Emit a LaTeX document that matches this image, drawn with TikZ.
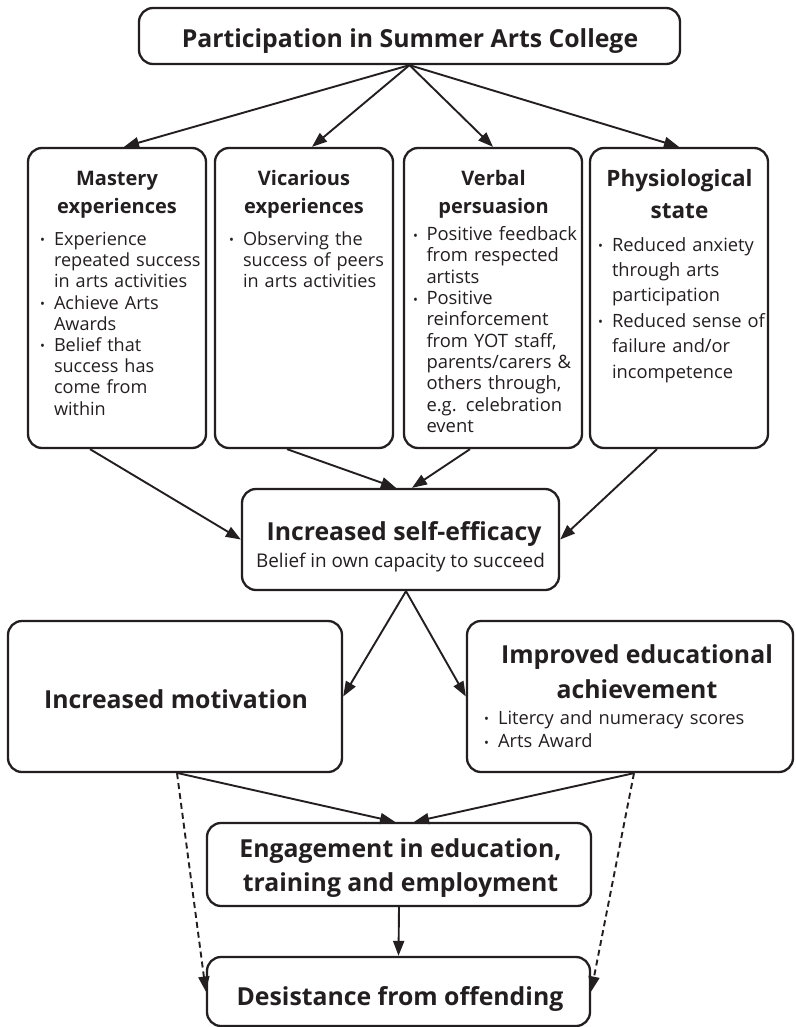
\documentclass[tikz,border=0pt]{standalone}
\usepackage{fontspec}
\setmainfont{Open Sans}
\usetikzlibrary{arrows.meta}
\definecolor{ink}{RGB}{35,31,32}
\newcommand\lgfont{\fontsize{24.8}{34}\selectfont\bfseries}
\newcommand\hdfont{\fontsize{20}{28}\selectfont\bfseries}
\newcommand\bdfont{\fontsize{18.1}{21.2}\selectfont}
\newcommand\bul{\raisebox{0.5pt}{\fontsize{13}{13}\selectfont\char"2022}}
\newcommand\itm[2][14pt]{\par\lineskip=0pt\noindent\makebox[#1][l]{\bul}\parbox[t]{400pt}{\raggedright\strut #2\strut}\par}
\tikzset{
  box/.style={draw=ink, line width=2.3pt, rounded corners=14pt, inner sep=0pt},
  txt/.style={inner sep=0pt, outer sep=0pt, text=ink},
  bullets/.style={txt, anchor=north west, text width=420pt, align=left, font=\bdfont},
  arr/.style={draw=ink, line width=1.9pt, -{Triangle[length=15pt,width=11pt]}},
  dasharr/.style={arr, dash pattern=on 6pt off 4pt}
}
\begin{document}
\begin{tikzpicture}[x=1pt,y=-1pt]
\fill[white] (0,0) rectangle (795,1027);
\useasboundingbox (0,0) rectangle (795,1027);

% boxes
\node[box, minimum width=541pt, minimum height=56pt] (top) at (409.5,36) {};
\node[box, minimum width=178pt, minimum height=300pt] (m) at (117,298) {};
\node[box, minimum width=178pt, minimum height=300pt] (v) at (304,298) {};
\node[box, minimum width=178pt, minimum height=300pt] (p) at (493,298) {};
\node[box, minimum width=178pt, minimum height=300pt] (s) at (679,298) {};
\node[box, minimum width=317pt, minimum height=101pt] (eff) at (400.5,539.5) {};
\node[box, minimum width=334pt, minimum height=151pt] (mot) at (175,696.5) {};
\node[box, minimum width=326pt, minimum height=151pt] (imp) at (630,696.5) {};
\node[box, minimum width=384pt, minimum height=83pt] (eng) at (399,864.5) {};
\node[box, minimum width=383pt, minimum height=69pt] (des) at (398.5,991.5) {};

% texts
\node[txt, anchor=base, font=\lgfont] (toptxt) at (410,48) {Participation in Summer Arts College};

\node[txt, anchor=north, align=center, font=\hdfont] (mh) at (117,165.4) {\strut Mastery\\experiences};
\node[bullets] (mb) at (40,224.2) {%
  \itm{Experience\\repeated success\\in arts activities}%
  \itm{Achieve Arts\\Awards}%
  \itm{Belief that\\success has\\come from\\within}};

\node[txt, anchor=north, align=center, font=\hdfont] (vh) at (304,165.4) {\strut Vicarious\\experiences};
\node[bullets] (vb) at (229,224.2) {%
  \itm{Observing the\\success of peers\\in arts activities}};

\node[txt, anchor=north, align=center, font=\hdfont] (ph) at (493.5,165.4) {\strut Verbal\\persuasion};
\node[bullets, font=\fontsize{18.4}{21.33}\selectfont] (pb) at (413,219.3) {%
  \itm[13.5pt]{Positive feedback\\from respected\\artists}%
  \itm[13.5pt]{Positive\\reinforcement\\from YOT staff,\\parents/carers \&\\others through,\\e.g. celebration\\event}};

\node[txt, anchor=north, align=center, font=\fontsize{22.5}{31.6}\selectfont\bfseries] (sh) at (679.5,164.6) {\strut Physiological\\state};
\node[bullets, font=\fontsize{18.3}{25.4}\selectfont] (sb) at (598,225.7) {%
  \itm{Reduced anxiety\\through arts\\participation}%
  \itm{Reduced sense of\\failure and/or\\incompetence}};

\node[txt, anchor=base, font=\lgfont] (effa) at (404,540) {Increased self-efficacy};
\node[txt, anchor=base, font=\fontsize{18.9}{22}\selectfont] (effb) at (400.5,567.5) {Belief in own capacity to succeed};

\node[txt, anchor=base, font=\lgfont] (mott) at (176,708.3) {Increased motivation};

\node[txt, anchor=north, align=center, font=\fontsize{24.8}{35}\selectfont\bfseries] (imph) at (637,638.8) {\strut Improved educational\\achievement};
\node[bullets, font=\fontsize{18.3}{23.4}\selectfont] (impb) at (484,700.9) {%
  \itm{Litercy and numeracy scores}%
  \itm{Arts Award}};

\node[txt, anchor=north, align=center, font=\lgfont] (engt) at (400.5,834) {\strut Engagement in education,\\training and employment};
\node[txt, anchor=base, font=\lgfont] (dest) at (400,1005) {Desistance from offending};

% connectors
\draw[arr] (top.south) -- ([xshift=7pt]m.north);
\draw[arr] (top.south) -- ([xshift=8pt]v.north);
\draw[arr] (top.south) -- (p.north);
\draw[arr] (top.south) -- (s.north);

\draw[arr] ([xshift=-27pt]m.south) -- (eff.west);
\draw[arr] ([xshift=-17pt]v.south) -- ([xshift=-4.5pt]eff.north);
\draw[arr] ([xshift=-23pt]p.south) -- ([xshift=11.5pt]eff.north);
\draw[arr] ([xshift=-22pt]s.south) -- (eff.east);

\draw[arr] ([xshift=5.5pt]eff.south) -- (mot.east);
\draw[arr] ([xshift=5.5pt]eff.south) -- (imp.west);

\draw[arr] ([xshift=3pt]mot.south) -- ([xshift=-4pt]eng.north);
\draw[arr] ([xshift=4pt]imp.south) -- ([xshift=15pt]eng.north);
\draw[arr] (eng.south) -- (des.north);

\draw[dasharr] ([xshift=2pt]mot.south) -- (des.west);
\draw[dasharr] ([xshift=4pt]imp.south) -- (des.east);
\end{tikzpicture}
\end{document}
